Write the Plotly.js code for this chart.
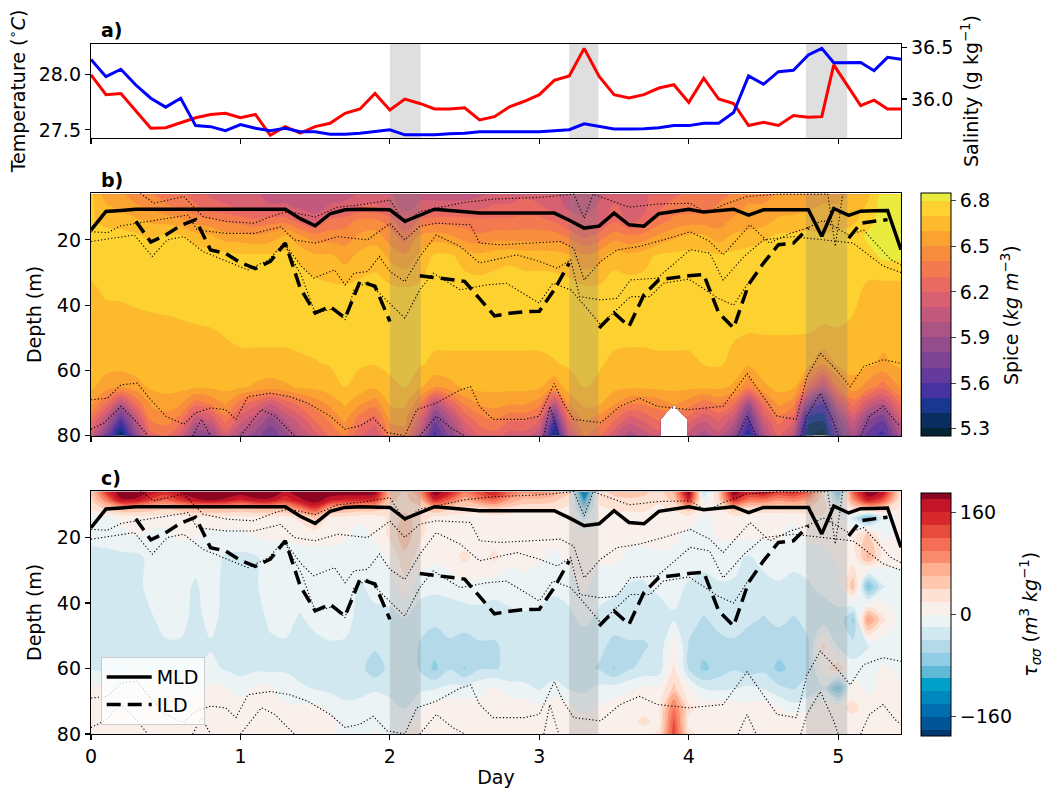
<!DOCTYPE html>
<html><head><meta charset="utf-8">
<script src="https://cdn.plot.ly/plotly-3.0.1.min.js"></script>
<style>body{margin:0;background:#fff}</style>
</head><body>
<div id="chart" style="width:1045px;height:788px"></div>
<script>
// ---------- time series (panel a, MLD / ILD) ----------
const days = [0,0.1,0.2,0.3,0.4,0.5,0.6,0.7,0.8,0.9,1,1.1,1.2,1.3,1.4,1.5,1.6,1.7,1.8,1.9,2,2.1,2.2,2.3,2.4,2.5,2.6,2.7,2.8,2.9,3,3.1,3.2,3.3,3.4,3.5,3.6,3.7,3.8,3.9,4,4.1,4.2,4.3,4.4,4.5,4.6,4.7,4.8,4.89,4.97,5.07,5.15,5.24,5.33,5.42];
const temperature = [28.00,27.82,27.83,27.67,27.515,27.52,27.565,27.61,27.64,27.65,27.61,27.64,27.45,27.53,27.47,27.53,27.56,27.65,27.69,27.83,27.68,27.78,27.74,27.69,27.69,27.70,27.59,27.62,27.71,27.76,27.82,27.95,27.99,28.24,27.985,27.82,27.79,27.82,27.88,27.91,27.75,27.97,27.78,27.74,27.54,27.57,27.54,27.63,27.615,27.62,28.09,27.89,27.72,27.77,27.69,27.69];
const salinity = [36.386,36.217,36.29,36.136,36.007,35.92,36.007,35.74,35.73,35.69,35.75,35.715,35.69,35.715,35.68,35.68,35.656,35.656,35.665,35.68,35.70,35.65,35.65,35.65,35.66,35.665,35.68,35.68,35.675,35.675,35.68,35.69,35.70,35.757,35.73,35.708,35.708,35.71,35.72,35.74,35.74,35.763,35.763,35.867,36.224,36.143,36.266,36.28,36.43,36.494,36.354,36.355,36.355,36.276,36.406,36.386];
const mld = [17,11.3,11.0,10.6,10.6,10.6,10.6,10.8,10.8,10.8,10.8,10.8,10.6,10.6,13.5,15.7,12,10.8,10.6,10.6,10.8,14.3,12.5,10.6,11,11.4,11.8,11.8,11.8,11.8,11.8,11.8,14,16.4,15.8,11.8,15.4,15.8,12,11.2,10.6,11.5,11,10.6,12.4,10.8,10.8,10.8,10.8,18.9,10.4,12.5,11.2,11.1,11.0,23];
const ild = [null,null,null,14.3,20.7,18.5,15.6,13.8,23.1,24.1,27,28.8,26.6,21.0,34.8,42.4,40.4,44.0,32.7,34.2,45.0,null,31.0,31.5,32.2,32.7,38,43.3,42.5,42.0,41.9,35.3,27.1,null,47.0,42.4,46.5,36.8,32.2,31.5,31.0,30.6,42.4,47.0,33.7,27.1,21.5,21.0,16.4,null,null,19.5,14.9,14.3,13.8,null];
const eventStart = [2.0, 3.2, 4.784];
const eventEnd = [2.206, 3.395, 5.06];

// ---------- gridded fields ----------
const gridDays = [0,0.1,0.2,0.3,0.4,0.5,0.6,0.7,0.8,0.9,1,1.1,1.2,1.3,1.4,1.5,1.6,1.7,1.8,1.9,2,2.1,2.2,2.3,2.4,2.5,2.6,2.7,2.8,2.9,3,3.1,3.2,3.3,3.4,3.5,3.6,3.7,3.8,3.9,4,4.1,4.2,4.3,4.4,4.5,4.6,4.7,4.8,4.9,5,5.1,5.2,5.3,5.42];
const spiceDepths = [6,10,14,19,25,35,48,58,65,70,75,80];
const spice6 = [6.72,6.55,6.52,6.45,6.42,6.35,6.32,6.25,6.18,6.15, 6.12,6.12,6.05,6.05,6.05,6.05,6.05,6.05,6.12,6.15, 6.12,6.05,6.08,6.05,6.05,6.05,6.08,6.12,6.15,6.18, 6.15,6.12,6.05,6.03,6.08,6.15,6.15,6.18,6.25,6.28, 6.32,6.32,6.35,6.42,6.45,6.45,6.52,6.52,6.55,6.55, 6.55,6.62,6.68,6.85,6.85];
const spice10 = [6.72,6.62,6.58,6.52,6.48,6.42,6.38,6.32,6.25,6.22, 6.18,6.15,6.12,6.12,6.08,6.05,6.12,6.15,6.22,6.22, 6.15,6.06,6.12,6.15,6.15,6.15,6.18,6.22,6.22,6.25, 6.22,6.15,6.08,6.05,6.12,6.22,6.15,6.18,6.28,6.35, 6.35,6.35,6.42,6.45,6.52,6.52,6.55,6.56,6.58,6.62, 6.62,6.64,6.72,6.85,6.85];
const spice14 = [6.72,6.66,6.64,6.62,6.58,6.56,6.52,6.45,6.42,6.38, 6.35,6.32,6.35,6.35,6.25,6.15,6.32,6.35,6.42,6.42, 6.35,6.18,6.32,6.35,6.35,6.35,6.32,6.32,6.32,6.33, 6.33,6.28,6.18,6.12,6.15,6.28,6.18,6.22,6.35,6.42, 6.45,6.45,6.45,6.52,6.52,6.55,6.62,6.63,6.65,6.62, 6.65,6.68,6.76,6.85,6.83];
const spice19 = [6.72,6.75,6.75,6.72,6.68,6.72,6.72,6.65,6.62,6.55, 6.55,6.52,6.55,6.62,6.52,6.45,6.45,6.45,6.52,6.55, 6.45,6.35,6.52,6.55,6.52,6.45,6.42,6.45,6.45,6.45, 6.45,6.45,6.38,6.28,6.35,6.45,6.42,6.45,6.52,6.58, 6.62,6.62,6.55,6.62,6.65,6.68,6.72,6.72,6.73,6.72, 6.73,6.75,6.82,6.85,6.83];
const spice25 = [6.75,6.76,6.76,6.76,6.75,6.76,6.76,6.76,6.75,6.74, 6.72,6.72,6.72,6.73,6.68,6.62,6.62,6.56,6.63,6.66, 6.58,6.52,6.62,6.72,6.72,6.66,6.63,6.66,6.68,6.66, 6.66,6.65,6.62,6.52,6.56,6.66,6.63,6.66,6.72,6.73, 6.73,6.73,6.72,6.73,6.74,6.75,6.76,6.76,6.76,6.75, 6.76,6.76,6.76,6.82,6.82];
const spice35 = [6.68,6.72,6.73,6.75,6.75,6.75,6.75,6.75,6.75,6.75, 6.75,6.75,6.75,6.75,6.75,6.74,6.72,6.72,6.73,6.74, 6.72,6.71,6.72,6.75,6.75,6.75,6.75,6.75,6.75,6.75, 6.75,6.75,6.74,6.72,6.72,6.75,6.75,6.75,6.75,6.75, 6.75,6.75,6.75,6.75,6.75,6.75,6.75,6.75,6.75,6.75, 6.75,6.73,6.68,6.66,6.66];
const spice48 = [6.65,6.64,6.63,6.64,6.66,6.67,6.68,6.69,6.695,6.705, 6.72,6.72,6.72,6.72,6.72,6.73,6.73,6.73,6.73,6.73, 6.74,6.74,6.74,6.73,6.73,6.73,6.73,6.73,6.73,6.73, 6.73,6.73,6.73,6.73,6.73,6.73,6.72,6.72,6.73,6.73, 6.73,6.73,6.73,6.71,6.705,6.705,6.705,6.705,6.705,6.69, 6.695,6.68,6.65,6.64,6.64];
const spice58 = [6.64,6.64,6.64,6.65,6.66,6.66,6.67,6.67,6.68,6.68, 6.68,6.68,6.68,6.68,6.69,6.695,6.705,6.72,6.71,6.705, 6.72,6.72,6.71,6.68,6.68,6.68,6.68,6.68,6.68,6.68, 6.68,6.695,6.71,6.72,6.71,6.68,6.68,6.68,6.68,6.68, 6.68,6.702,6.71,6.68,6.62,6.66,6.66,6.66,6.62,6.52, 6.62,6.64,6.62,6.58,6.62];
const spice65 = [6.62,6.55,6.52,6.56,6.62,6.63,6.63,6.62,6.62,6.63, 6.62,6.58,6.55,6.58,6.62,6.63,6.66,6.705,6.66,6.62, 6.68,6.705,6.62,6.52,6.56,6.62,6.63,6.63,6.63,6.63, 6.62,6.52,6.66,6.705,6.68,6.63,6.62,6.62,6.63,6.63, 6.63,6.63,6.63,6.58,6.42,6.58,6.63,6.62,6.32,6.05, 6.42,6.56,6.45,6.35,6.52];
const spice70 = [6.52,6.32,6.02,6.32,6.52,6.56,6.52,6.35,6.42,6.52, 6.35,6.25,6.12,6.25,6.35,6.45,6.53,6.62,6.52,6.45, 6.62,6.63,6.42,6.02,6.22,6.42,6.52,6.54,6.52,6.52, 6.45,6.05,6.52,6.63,6.62,6.52,6.42,6.42,6.45,6.52, 6.45,6.35,6.42,6.32,5.92,6.32,6.54,6.45,5.82,5.62, 6.12,6.35,6.12,6.02,6.32];
const spice75 = [6.32,6.02,5.62,6.02,6.42,6.45,6.35,6.05,6.12,6.35, 6.15,6.02,5.85,6.02,6.15,6.32,6.42,6.52,6.35,6.25, 6.52,6.53,6.22,5.75,5.95,6.22,6.35,6.42,6.32,6.32, 6.22,5.62,6.32,6.52,6.45,6.32,6.15,6.22,6.32,null, 6.25,6.12,6.22,6.05,5.65,6.12,6.35,6.22,5.45,5.42, 5.85,6.12,5.82,5.72,6.12];
const spice80 = [6.12,5.75,5.32,5.82,6.25,6.32,6.15,5.82,5.85,6.15, 5.95,5.85,5.72,5.85,6.02,6.15,6.32,6.42,6.22,6.12, 6.42,6.45,6.02,5.55,5.82,6.05,6.22,6.25,6.15,6.15, 6.02,5.35,6.12,6.42,6.32,6.12,5.95,6.05,6.15,null, 6.05,5.95,6.05,5.85,5.42,5.95,6.22,6.02,5.32,5.25, 5.72,5.95,5.65,5.55,5.95];

const tauDepths = [6,8.5,11,14,19,26,35,45,53,60,66,72,76,80];
const tau6 = [42,145,200,200,175,155,185,200,200,200, 195,200,200,175,195,200,200,200,200,195, 62,33,85,200,165,105,135,165,115,85, 95,75,45,-165,33,45,55,45,33,65, 200,-35,45,200,155,175,145,155,125,33, -85,125,200,175,25];
const tau8 = [35,95,175,175,135,115,145,175,185,175, 155,175,175,145,175,195,165,155,155,145, 45,33,55,155,115,65,95,115,75,55, 55,45,25,-105,25,35,35,35,25,45, 155,-15,35,155,105,105,85,95,75,25, -45,85,165,125,15];
const tau11 = [25,45,65,65,55,45,55,65,65,65, 55,65,65,65,105,145,75,65,55,55, 35,35,35,65,45,35,35,45,35,25, 25,25,15,-65,15,25,25,25,15,25, 55,5,15,55,35,35,35,35,35,35, -25,35,55,45,15];
const tau14 = [-5,-5,5,8,12,8,8,12,12,12, 12,12,12,12,25,45,15,12,8,8, 25,45,33,12,12,8,5,12,8,5, 5,5,12,-25,12,12,8,12,8,5, 12,-5,5,12,8,5,5,5,12,12, 5,-25,-85,-15,5];
const tau19 = [-15,-12,-5,3,-5,-5,5,3,-5,-5, -5,3,5,5,5,12,5,5,-12,5, 25,55,25,8,5,8,5,8,12,5, 5,8,8,5,12,5,8,12,12,5, -5,-12,5,5,5,5,5,-12,8,5, 5,12,45,-5,5];
const tau26 = [-25,-25,-25,-25,-15,-12,-12,-15,-12,-22, -25,-22,-12,-15,-5,-12,-5,-12,-15,-12, 5,33,12,5,12,25,12,25,5,5, 3,-5,5,12,5,5,-5,-12,-5,-5, -12,-15,-12,-15,-22,-15,-12,-15,-12,-5, 5,8,65,12,3];
const tau35 = [-25,-32,-25,-25,-15,-12,-15,-22,-12,-25, -25,-22,-12,-12,-12,-15,-12,-12,-22,-15, -12,12,-12,-15,-12,-5,-5,-12,-12,-5, -12,-15,-12,5,-12,-15,-22,-22,-15,-15, -22,-25,-22,-22,-25,-25,-22,-25,-22,-15, -12,55,-85,-22,-5];
const tau45 = [-25,-32,-32,-25,-22,-15,-15,-25,-15,-25, -25,-32,-15,-15,-22,-15,-12,-15,-25,-25, -25,-22,-32,-35,-35,-35,-32,-32,-25,-25, -25,-32,-25,-15,-25,-32,-32,-32,-32,-22, -32,-42,-35,-35,-35,-42,-35,-42,-35,-32, -25,-65,85,25,-12];
const tau53 = [-25,-32,-32,-25,-22,-22,-22,-25,-22,-25, -25,-32,-25,-22,-25,-25,-22,-22,-32,-35, -32,-25,-42,-52,-42,-45,-42,-42,-35,-35, -32,-35,-35,-32,-35,-45,-42,-42,-35,12, -42,-52,-45,-42,-55,-45,-52,-45,-42,25, -22,-32,-22,-12,-12];
const tau60 = [-22,-25,-25,-22,-22,-22,-22,-22,-15,-22, -25,-25,-25,-22,-32,-25,-22,-25,-32,-55, -32,-25,-42,-65,-42,-62,-42,-42,-35,-32, -35,-32,-35,-35,-42,-62,-42,-35,-32,25, -42,-65,-52,-42,-52,-45,-65,-55,-42,12, 35,-12,-5,3,-5];
const tau66 = [5,3,-12,-5,3,-5,-12,-5,5,3, -12,5,3,-12,-15,-22,-25,-32,-25,-22, -25,-22,-25,-22,-15,-12,-5,3,-12,-15, -22,-12,-22,-25,-15,-12,-5,5,3,45, 3,-22,-25,-22,-15,-22,-35,-42,-32,-22, -85,12,-5,5,3];
const tau72 = [12,15,12,5,12,5,12,15,12,5, 12,15,12,5,3,5,-5,-12,-15,-12, -15,-22,-5,12,15,12,5,12,15,12, 5,15,5,-5,3,12,15,12,15,105, 25,12,15,12,5,12,3,-12,-5,12, 15,25,12,15,12];
const tau76 = [15,12,5,12,15,12,5,12,15,12, 5,12,15,12,5,12,5,-5,-12,-5, -12,-5,5,12,5,15,12,5,12,15, 12,5,12,5,12,5,12,25,12,125, 15,5,12,15,12,5,12,15,12,5, 12,15,12,5,12];
const tau80 = [12,15,12,5,12,15,12,5,12,15, 12,5,12,15,12,5,3,-5,-5,3, -12,3,12,5,12,5,15,12,5,12, 15,12,5,12,15,12,5,12,25,135, 25,12,5,12,15,12,5,12,5,12, 15,12,5,12,5];

// ---------- isopycnals (dotted) ----------
const isoADays = [0.33,0.42,0.62,0.71,0.75,0.91,1.09,1.23,1.32,1.5,1.65,1.8,2.0,2.1,2.2,2.31,2.5,2.7,3.0,3.23,3.3,3.36,3.6,3.8,4.01,4.12,4.23,4.39,4.6,4.93,4.98,5.03];
const isoADepths = [5.7,8.8,6.7,10.8,12.9,14.4,14.9,12.4,11.3,13,10,9.3,7.8,14.9,11.3,10.3,8.5,7.5,7,6,13.4,6,10,9,8.8,11.8,9.3,6.7,6,6,22,6];
const isoBDays = [0,0.11,0.2,0.31,0.65,0.71,0.91,1.09,1.27,1.36,1.5,1.65,1.85,2.0,2.1,2.2,2.31,2.54,2.6,2.74,2.96,3.14,3.23,3.3,3.41,3.52,3.67,3.83,4.01,4.14,4.23,4.41,4.54,4.68,4.79,4.9,5.07,5.17,5.35,5.42];
const isoBDepths = [17.5,17.8,15.7,14.9,12.4,17,18,18,16,20,21,19,20,15,20,15.9,14.9,15.4,21,21.5,21,20.5,22.6,32.3,26.6,23.1,22,20,17.5,20.5,24.6,15.4,21,18,16.4,14,18.5,17,26,27.7];
const isoCDays = [0,0.2,0.29,0.41,0.51,0.62,0.75,0.91,1.05,1.19,1.29,1.41,1.49,1.63,1.7,1.76,1.85,1.93,2.0,2.1,2.2,2.31,2.47,2.6,2.74,2.85,3.0,3.12,3.21,3.27,3.41,3.52,3.61,3.79,4.01,4.14,4.23,4.37,4.5,4.7,4.9,5.1,5.3,5.42];
const isoCDepths = [20.5,19,18.5,25.1,20,19,23.6,26.6,29.2,26.1,21,28.2,31.7,29.2,33.8,30.2,29.7,25.1,29.7,32.8,25.1,18.5,22,27.1,25.6,24.6,26.6,28.7,26.1,37.4,38.4,37.9,32.3,31.7,23,24.1,32.3,25.1,20,19,20,21,28,30];
const isoDDays = [1.29,1.41,1.5,1.63,1.7,1.76,1.85,2.0,2.1,2.2,2.29,2.47,2.65,2.78,3.0,3.09,3.21,3.3,3.41,3.61,3.74,3.83,4.0,4.2,4.3,4.4];
const isoDDepths = [21,31.2,42.5,41,44.5,35.3,32.8,39.4,44,35.3,30.2,35.3,33.8,33.3,39.4,33.3,35.3,40,46,37.4,37.4,33.3,32,38,40,33];
const isoEDays = [0,0.11,0.2,0.31,0.39,0.5,0.62,0.7,0.8,0.9,0.97,1.05,1.2,1.33,1.45,1.6,1.7,1.8,1.89,1.98,2.1,2.18,2.31,2.47,2.54,2.6,2.69,2.9,3.0,3.1,3.16,3.23,3.41,3.54,3.67,3.79,4.0,4.23,4.39,4.5,4.59,4.72,4.79,4.88,4.99,5.08,5.17,5.3,5.42];
const isoEDepths = [69,68.5,64.4,63.9,68.5,74,76.5,73,71.5,72,75,68,67,68,70,74,78,77,74.6,79,80,72,70,66,65,71,75,75,74,64,70,75,76,71,68.5,71,72,71,61,68,74,75,62,54.7,60,65,58.8,56.7,57.8];
const isoFDays = [0,0.09,0.2,0.31,0.38,null,0.68,0.74,0.8,null,1.0,1.14,1.23,1.32,1.36,null,2.2,2.31,2.42,2.5,null,3.03,3.07,3.13,null,4.33,4.39,4.45,null,4.75,4.79,4.88,4.97,5.0,null,5.15,5.21,5.3,5.39,5.42];
const isoFDepths = [78,76,71,76,80,null,80,75,80,null,80,72,74,78,80,null,80,74,78,80,null,80,71,80,null,80,74,80,null,80,74,67,76,80,null,80,74,71,76,77];

// ---------- colour tables ----------
const spiceColors = ['rgb(4,35,51)','rgb(10,45,95)','rgb(25,55,145)','rgb(70,50,160)','rgb(100,58,157)','rgb(125,68,148)','rgb(148,77,140)','rgb(172,85,133)','rgb(195,90,125)','rgb(215,97,113)','rgb(232,106,98)','rgb(243,122,80)','rgb(248,141,62)','rgb(250,163,48)','rgb(252,186,44)','rgb(253,210,48)','rgb(233,235,62)'];
const tauColors = ['rgb(0,55,110)','rgb(0,85,150)','rgb(0,110,175)','rgb(0,135,190)','rgb(0,160,200)','rgb(95,185,215)','rgb(145,205,228)','rgb(180,218,233)','rgb(210,232,240)','rgb(235,243,245)','rgb(250,240,235)','rgb(253,225,210)','rgb(253,200,175)','rgb(252,175,145)','rgb(250,140,110)','rgb(245,110,85)','rgb(230,75,60)','rgb(215,40,45)','rgb(195,20,40)','rgb(140,5,35)'];

// ---------- build ----------
const FONT = 'DejaVu Sans, sans-serif';
const FS = 19;
const XR = [0, 5.42];
const TR = [27.427, 28.28];
const SR = [35.62, 36.536];
const DR = [80, 5.7];

function scale(cols){ const n = cols.length - 1; return cols.map((c,i)=>[i/n, c]); }
function shade(xa, ya, yr){
  return eventStart.map((s,i)=>({
    type:'scatter', mode:'lines', x:[s,s,eventEnd[i],eventEnd[i],s], y:[yr[0],yr[1],yr[1],yr[0],yr[0]],
    xaxis:xa, yaxis:ya, fill:'toself', fillcolor:'rgba(128,128,128,0.25)', line:{width:0},
    hoverinfo:'skip', showlegend:false
  }));
}
function isoTraces(xa, ya){
  const sets = [[isoADays,isoADepths],[isoBDays,isoBDepths],[isoCDays,isoCDepths],[isoDDays,isoDDepths],[isoEDays,isoEDepths],[isoFDays,isoFDepths]];
  return sets.map(s=>({type:'scatter', mode:'lines', x:s[0], y:s[1], xaxis:xa, yaxis:ya,
    line:{color:'black', width:1.1, dash:'1.2px,2.2px'}, hoverinfo:'skip', showlegend:false, connectgaps:false}));
}
function mlTraces(xa, ya, legend){
  return [
    {type:'scatter', mode:'lines', x:days, y:mld, xaxis:xa, yaxis:ya, name:'MLD', line:{color:'black', width:3.5}, showlegend:legend, hoverinfo:'skip'},
    {type:'scatter', mode:'lines', x:days, y:ild, xaxis:xa, yaxis:ya, name:'ILD', line:{color:'black', width:3.5, dash:'14px,7px'}, showlegend:legend, hoverinfo:'skip', connectgaps:false}
  ];
}

const spiceZ = [spice6,spice10,spice14,spice19,spice25,spice35,spice48,spice58,spice65,spice70,spice75,spice80];
const tauZ = [tau6,tau8,tau11,tau14,tau19,tau26,tau35,tau45,tau53,tau60,tau66,tau72,tau76,tau80];

const cbCommon = {thickness:30, thicknessmode:'pixels', lenmode:'pixels', len:243, xanchor:'left', x:1.0247,
  yanchor:'top', xpad:0, ypad:0, outlinewidth:1, outlinecolor:'#000', ticks:'outside', ticklen:5, tickwidth:1,
  tickfont:{family:FONT, size:FS, color:'#000'}};

const data = [].concat(
  shade('x','y',TR),
  [{type:'scatter', mode:'lines', x:days, y:temperature, xaxis:'x', yaxis:'y', line:{color:'#ff0000', width:3}, showlegend:false, hoverinfo:'skip'},
   {type:'scatter', mode:'lines', x:days, y:salinity, xaxis:'x', yaxis:'y2', line:{color:'#0000ff', width:3}, showlegend:false, hoverinfo:'skip'}],
  [{type:'contour', x:gridDays, y:spiceDepths, z:spiceZ, xaxis:'x2', yaxis:'y3', autocontour:false,
    contours:{start:5.3, end:6.8, size:0.1, coloring:'fill', showlines:false}, line:{width:0},
    colorscale:scale(spiceColors), connectgaps:false, hoverinfo:'skip', showlegend:false,
    colorbar:Object.assign({}, cbCommon, {y:0.7838, tickvals:[5.3,5.6,5.9,6.2,6.5,6.8], ticktext:['5.3','5.6','5.9','6.2','6.5','6.8']})}],
  shade('x2','y3',DR),
  isoTraces('x2','y3'),
  mlTraces('x2','y3',false),
  [{type:'contour', x:gridDays, y:tauDepths, z:tauZ, xaxis:'x3', yaxis:'y4', autocontour:false,
    contours:{start:-180, end:180, size:20, coloring:'fill', showlines:false}, line:{width:0},
    colorscale:scale(tauColors), hoverinfo:'skip', showlegend:false,
    colorbar:Object.assign({}, cbCommon, {y:0.3493, tickvals:[-160,0,160]})}],
  shade('x3','y4',DR),
  isoTraces('x3','y4'),
  mlTraces('x3','y4',true)
);

const axisBase = {showline:true, linecolor:'#000', linewidth:1.2, ticks:'outside', ticklen:5, tickwidth:1.2,
  tickcolor:'#000', showgrid:false, zeroline:false, tickfont:{family:FONT, size:FS, color:'#000'}};
const titleFont = {family:FONT, size:FS, color:'#000'};

const layout = {
  width:1045, height:788, paper_bgcolor:'#fff', plot_bgcolor:'#fff',
  margin:{l:91, r:144, t:44, b:54}, hovermode:false,
  font:{family:FONT, size:FS, color:'#000'},
  xaxis: Object.assign({}, axisBase, {domain:[0,1], anchor:'y', range:XR, tickvals:[0,1,2,3,4,5], showticklabels:false, mirror:true}),
  yaxis: Object.assign({}, axisBase, {domain:[0.8639,1], anchor:'x', range:TR, tickvals:[27.5,28.0], ticktext:['27.5','28.0'], mirror:true,
    title:{text:'Temperature (<sup>∘</sup><i>C</i>)', font:titleFont, standoff:8}}),
  yaxis2: Object.assign({}, axisBase, {overlaying:'y', side:'right', anchor:'x', range:SR, tickvals:[36.0,36.5], ticktext:['36.0','36.5'],
    title:{text:'Salinity (g kg<sup>−1</sup>)', font:titleFont, standoff:12}}),
  xaxis2: Object.assign({}, axisBase, {domain:[0,1], anchor:'y3', range:XR, tickvals:[0,1,2,3,4,5], showticklabels:false, mirror:true}),
  yaxis3: Object.assign({}, axisBase, {domain:[0.4323,0.7838], anchor:'x2', range:DR, tickvals:[20,40,60,80], mirror:true,
    title:{text:'Depth (m)', font:titleFont, standoff:10}}),
  xaxis3: Object.assign({}, axisBase, {domain:[0,1], anchor:'y4', range:XR, tickvals:[0,1,2,3,4,5], mirror:true,
    title:{text:'Day', font:titleFont, standoff:6}}),
  yaxis4: Object.assign({}, axisBase, {domain:[0,0.3526], anchor:'x3', range:DR, tickvals:[20,40,60,80], mirror:true,
    title:{text:'Depth (m)', font:titleFont, standoff:10}}),
  legend:{x:0.012, y:0.013, xanchor:'left', yanchor:'bottom', bgcolor:'rgba(255,255,255,0.8)', bordercolor:'#cccccc', borderwidth:1,
    itemwidth:45, tracegroupgap:4, font:{family:FONT, size:FS, color:'#000'}},
  annotations:[
    {text:'<b>a)</b>', xref:'paper', yref:'paper', x:0.01, y:1.0203, xanchor:'left', yanchor:'middle', showarrow:false, font:{family:FONT, size:FS}},
    {text:'<b>b)</b>', xref:'paper', yref:'paper', x:0.01, y:0.8029, xanchor:'left', yanchor:'middle', showarrow:false, font:{family:FONT, size:FS}},
    {text:'<b>c)</b>', xref:'paper', yref:'paper', x:0.01, y:0.371, xanchor:'left', yanchor:'middle', showarrow:false, font:{family:FONT, size:FS}},
    {text:'Spice (<i>kg m</i><sup>−3</sup>)', xref:'paper', yref:'paper', x:1.1346, y:0.6072, xanchor:'center', yanchor:'middle', textangle:-90, showarrow:false, font:{family:FONT, size:FS}},
    {text:'<i>τ</i><sub><i>σσ</i></sub> (<i>m</i><sup>3</sup> <i>kg</i><sup>−1</sup>)', xref:'paper', yref:'paper', x:1.159, y:0.1739, xanchor:'center', yanchor:'middle', textangle:-90, showarrow:false, font:{family:FONT, size:FS}}
  ]
};

Plotly.newPlot('chart', data, layout, {displayModeBar:false, staticPlot:true});
</script>
</body></html>
